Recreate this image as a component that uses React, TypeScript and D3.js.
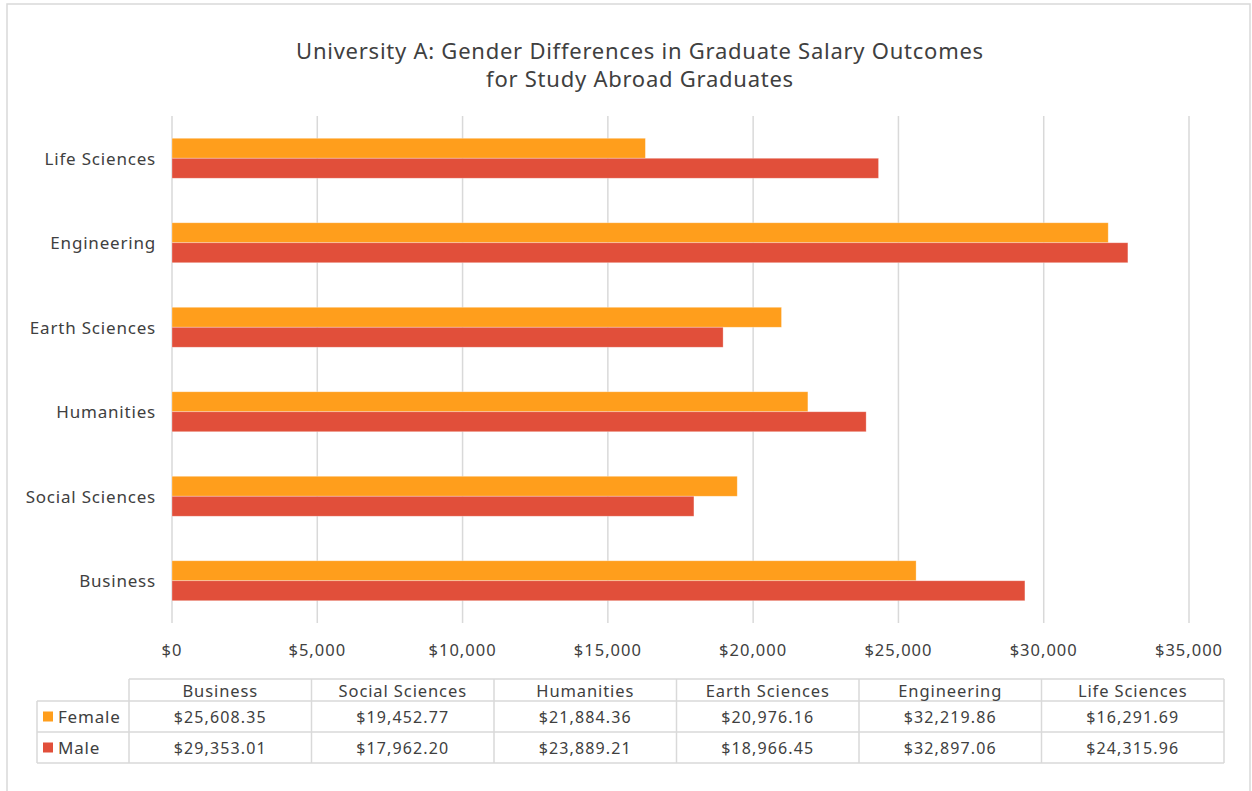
import React from "react";
import * as d3 from "d3";

const categories = ["Business", "Social Sciences", "Humanities", "Earth Sciences", "Engineering", "Life Sciences"];
const femaleValues = [25608.35, 19452.77, 21884.36, 20976.16, 32219.86, 16291.69];
const maleValues = [29353.01, 17962.2, 23889.21, 18966.45, 32897.06, 24315.96];
const seriesNames = ["Female", "Male"];
const xTicks = [0, 5000, 10000, 15000, 20000, 25000, 30000, 35000];
const titleLines = ["University A: Gender Differences in Graduate Salary Outcomes", "for Study Abroad Graduates"];

const W = 1252, H = 791;
const FONT = "'Noto Sans', 'DejaVu Sans', sans-serif";
const TEXT = "#404040";
const GRID = "#D9D9D9";
const COLORS = ["#FF9E1C", "#E14F3A"];

export default function App() {
  const x = d3.scaleLinear().domain([0, 35000]).range([172, 1189]);
  const yCats = [...categories].reverse();
  const y = d3.scaleBand<string>().domain(yCats).range([116, 623]).paddingInner(0.527).paddingOuter(0.2635);
  const ySub = d3.scaleBand<string>().domain(seriesNames).range([0, y.bandwidth()]);
  const series = [femaleValues, maleValues];
  const fmtTick = (v: number) => "$" + d3.format(",")(v);
  const fmtVal = (v: number) => "$" + d3.format(",.2f")(v);

  const tableX = d3.scaleBand<string>().domain(categories).range([129, 1224]);
  const rowTops = [679, 701, 732, 763];
  const legendLeft = 37;

  return (
    <svg width={W} height={H} style={{ position: "absolute", left: 0, top: 0, fontFamily: FONT }}>
      <rect x={0} y={0} width={W} height={H} fill="#fff" />
      <rect x={7} y={4} width={1243} height={800} fill="#fff" stroke={GRID} strokeWidth={1.5} />
      {titleLines.map((t, i) => (
        <text key={i} x={640} y={50 + i * 28} textAnchor="middle" dominantBaseline="central" fontSize={22} letterSpacing={0.75} fill={TEXT}>
          {t}
        </text>
      ))}
      {xTicks.map((t) => (
        <g key={t}>
          <line x1={x(t)} x2={x(t)} y1={116} y2={623} stroke={GRID} strokeWidth={1.5} />
          <text x={x(t)} y={649} textAnchor="middle" dominantBaseline="central" fontSize={16.5} letterSpacing={1} fill={TEXT}>
            {fmtTick(t)}
          </text>
        </g>
      ))}
      {categories.map((c, ci) => (
        <g key={c}>
          {series.map((vals, si) => (
            <rect
              key={si}
              x={x(0)}
              y={(y(c) as number) + (ySub(seriesNames[si]) as number)}
              width={x(vals[ci]) - x(0)}
              height={ySub.bandwidth()}
              fill={COLORS[si]}
              stroke="#fff"
              strokeOpacity={0.4}
              strokeWidth={0.75}
            />
          ))}
          <text x={156} y={(y(c) as number) + y.bandwidth() / 2} textAnchor="end" dominantBaseline="central" fontSize={17} letterSpacing={0.8} fill={TEXT}>
            {c}
          </text>
        </g>
      ))}
      <g stroke={GRID} strokeWidth={1.5} fill="none">
        <line x1={129} x2={1224} y1={rowTops[0]} y2={rowTops[0]} />
        <line x1={legendLeft} x2={1224} y1={rowTops[1]} y2={rowTops[1]} />
        <line x1={legendLeft} x2={1224} y1={rowTops[2]} y2={rowTops[2]} />
        <line x1={legendLeft} x2={1224} y1={rowTops[3]} y2={rowTops[3]} />
        <line x1={legendLeft} x2={legendLeft} y1={rowTops[1]} y2={rowTops[3]} />
        {categories.map((c) => (
          <line key={c} x1={tableX(c) as number} x2={tableX(c) as number} y1={rowTops[0]} y2={rowTops[3]} />
        ))}
        <line x1={1224} x2={1224} y1={rowTops[0]} y2={rowTops[3]} />
      </g>
      {categories.map((c, ci) => (
        <g key={c}>
          <text x={(tableX(c) as number) + tableX.bandwidth() / 2} y={(rowTops[0] + rowTops[1]) / 2} textAnchor="middle" dominantBaseline="central" fontSize={16.5} letterSpacing={0.9} fill={TEXT}>
            {c}
          </text>
          {series.map((vals, si) => (
            <text key={si} x={(tableX(c) as number) + tableX.bandwidth() / 2} y={(rowTops[si + 1] + rowTops[si + 2]) / 2} textAnchor="middle" dominantBaseline="central" fontSize={16} letterSpacing={1.1} fill={TEXT}>
              {fmtVal(vals[ci])}
            </text>
          ))}
        </g>
      ))}
      {seriesNames.map((s, si) => {
        const cy = (rowTops[si + 1] + rowTops[si + 2]) / 2;
        return (
          <g key={s}>
            <rect x={43} y={cy - 5} width={10} height={10} fill={COLORS[si]} />
            <text x={58} y={cy} dominantBaseline="central" fontSize={17} letterSpacing={0.8} fill={TEXT}>
              {s}
            </text>
          </g>
        );
      })}
    </svg>
  );
}
